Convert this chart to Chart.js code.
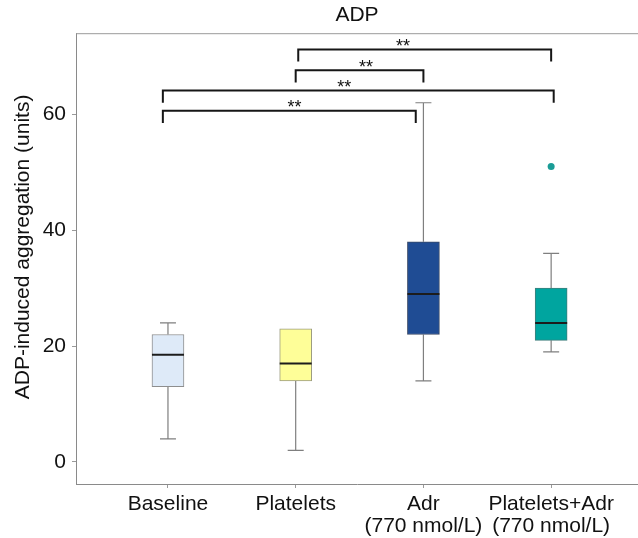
<!DOCTYPE html>
<html>
<head>
<meta charset="utf-8">
<title>ADP</title>
<script src="https://cdn.jsdelivr.net/npm/chart.js@4.4.1/dist/chart.umd.min.js"></script>
<style>
  body { margin: 0; background: #fff; }
</style>
</head>
<body>
<canvas id="chart" width="638" height="538"></canvas>
<script>
// groups on the x axis, placed at 1..4
const groups = ['Baseline', 'Platelets', ['Adr', '(770 nmol/L)'], ['Platelets+Adr', '(770 nmol/L)']];
const groupPos = [1, 2, 3, 4];

// box plot summaries
const whiskerLow = [4, 2, 14, 19];
const q1 = [13, 14, 22, 21];
const median = [18.5, 17, 29, 24];
const q3 = [22, 23, 38, 30];
const whiskerHigh = [24, 23, 62, 36];
const outlierPos = [4];
const outlierVal = [51];

const yTicks = [0, 20, 40, 60];

// significance brackets (x in group units, y in data units)
const bracketX1 = [2.02, 2.0, 0.96, 0.96];
const bracketX2 = [4.0, 3.0, 4.02, 2.94];
const bracketY = [71.2, 67.6, 64.1, 60.6];
const bracketLabelX = [2.84, 2.55, 2.38, 1.99];
const bracketLabel = ['**', '**', '**', '**'];

const boxColors = ['#deeaf8', '#fefe98', '#1f4c94', '#00a59f'];
const boxBorders = ['#8e8e8e', '#9c9c80', '#3b4a66', '#3f7f7c'];
const fontFamily = '"Liberation Sans", Arial, Helvetica, sans-serif';
const textColor = '#111111';

// whiskers, medians, brackets and the top frame line
const boxExtras = {
    id: 'boxExtras',
    beforeDatasetsDraw(chart) {
        const ctx = chart.ctx;
        const x = chart.scales.x, y = chart.scales.y;
        ctx.save();
        ctx.strokeStyle = '#7f7f7f';
        ctx.lineWidth = 1.2;
        groupPos.forEach(function (p, i) {
            const px = x.getPixelForValue(p);
            ctx.beginPath();
            ctx.moveTo(px, y.getPixelForValue(q3[i]));
            ctx.lineTo(px, y.getPixelForValue(whiskerHigh[i]));
            ctx.moveTo(px, y.getPixelForValue(q1[i]));
            ctx.lineTo(px, y.getPixelForValue(whiskerLow[i]));
            if (whiskerHigh[i] > q3[i]) {
                ctx.moveTo(px - 8, y.getPixelForValue(whiskerHigh[i]));
                ctx.lineTo(px + 8, y.getPixelForValue(whiskerHigh[i]));
            }
            if (whiskerLow[i] < q1[i]) {
                ctx.moveTo(px - 8, y.getPixelForValue(whiskerLow[i]));
                ctx.lineTo(px + 8, y.getPixelForValue(whiskerLow[i]));
            }
            ctx.stroke();
        });
        ctx.restore();
    },
    afterDatasetsDraw(chart) {
        const ctx = chart.ctx;
        const area = chart.chartArea;
        const x = chart.scales.x, y = chart.scales.y;
        ctx.save();

        // top frame line
        ctx.strokeStyle = '#9a9a9a';
        ctx.lineWidth = 1;
        ctx.beginPath();
        ctx.moveTo(area.left, area.top + 0.5);
        ctx.lineTo(area.right, area.top + 0.5);
        ctx.stroke();

        // medians
        ctx.strokeStyle = '#1c1c1c';
        ctx.lineWidth = 2;
        groupPos.forEach(function (p, i) {
            const px = x.getPixelForValue(p);
            const py = y.getPixelForValue(median[i]);
            ctx.beginPath();
            ctx.moveTo(px - 16, py);
            ctx.lineTo(px + 16, py);
            ctx.stroke();
        });

        // brackets
        ctx.strokeStyle = '#161616';
        ctx.lineWidth = 2;
        ctx.fillStyle = textColor;
        ctx.font = '18px ' + fontFamily;
        ctx.textAlign = 'center';
        ctx.textBaseline = 'alphabetic';
        bracketY.forEach(function (v, i) {
            const x1 = x.getPixelForValue(bracketX1[i]);
            const x2 = x.getPixelForValue(bracketX2[i]);
            const top = y.getPixelForValue(v);
            const foot = y.getPixelForValue(v - 2.1);
            ctx.beginPath();
            ctx.moveTo(x1, foot);
            ctx.lineTo(x1, top);
            ctx.lineTo(x2, top);
            ctx.lineTo(x2, foot);
            ctx.stroke();
            ctx.fillText(bracketLabel[i], x.getPixelForValue(bracketLabelX[i]), top + 2.5);
        });
        ctx.restore();
    }
};

const ctx = document.getElementById('chart').getContext('2d');
const adpChart = new Chart(ctx, {
    type: 'bar',
    data: {
        datasets: [{
            label: 'ADP-induced aggregation',
            data: groupPos.map(function (p, i) { return { x: p, y: [q1[i], q3[i]] }; }),
            backgroundColor: boxColors,
            borderColor: boxBorders,
            borderWidth: 1,
            borderSkipped: false,
            barThickness: 32
        }, {
            type: 'scatter',
            label: 'Outliers',
            data: outlierPos.map(function (p, i) { return { x: p, y: outlierVal[i] }; }),
            backgroundColor: '#1a9c96',
            borderWidth: 0,
            pointRadius: 3.5
        }]
    },
    options: {
        responsive: false,
        animation: false,
        layout: { padding: 0, autoPadding: false },
        plugins: {
            legend: { display: false },
            tooltip: { enabled: false },
            title: {
                display: true,
                text: 'ADP',
                fullSize: false,
                color: textColor,
                font: { family: fontFamily, size: 21, weight: 'normal' },
                padding: { top: 3, bottom: 5 }
            }
        },
        scales: {
            x: {
                type: 'linear',
                min: 0.28,
                max: 4.68,
                offset: false,
                afterBuildTicks: function (scale) {
                    scale.ticks = groupPos.map(function (v) { return { value: v }; });
                },
                afterFit: function (scale) { scale.height = 54; },
                ticks: {
                    callback: function (value, index) { return groups[index]; },
                    color: textColor,
                    font: { family: fontFamily, size: 21, lineHeight: 1.05 },
                    padding: 5,
                    maxRotation: 0,
                    autoSkip: false
                },
                grid: { offset: false, drawOnChartArea: false, tickLength: 4, color: '#9a9a9a' },
                border: { color: '#8a8a8a' }
            },
            y: {
                min: -3.8,
                max: 74,
                afterBuildTicks: function (scale) {
                    scale.ticks = yTicks.map(function (v) { return { value: v }; });
                },
                afterFit: function (scale) { scale.width = 76; },
                ticks: {
                    color: textColor,
                    font: { family: fontFamily, size: 21 },
                    padding: 6
                },
                grid: { drawOnChartArea: false, tickLength: 4, color: '#9a9a9a' },
                border: { color: '#8a8a8a' },
                title: {
                    display: true,
                    // leading spaces nudge the rotated label up a bit, like the original
                    text: '\u00a0\u00a0\u00a0\u00a0ADP-induced aggregation (units)',
                    color: textColor,
                    font: { family: fontFamily, size: 21 },
                    padding: { top: 11, bottom: 0 }
                }
            }
        }
    },
    plugins: [boxExtras]
});
</script>
</body>
</html>
